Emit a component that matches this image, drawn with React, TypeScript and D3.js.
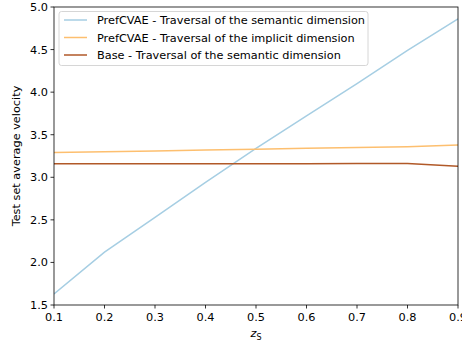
import React from 'react';
import * as d3 from 'd3';

const xs = [0.1, 0.2, 0.3, 0.4, 0.5, 0.6, 0.7, 0.8, 0.9];
const semantic = [1.63, 2.12, 2.53, 2.94, 3.34, 3.72, 4.1, 4.49, 4.86];
const implicit = [3.29, 3.3, 3.31, 3.32, 3.33, 3.34, 3.35, 3.36, 3.38];
const base = [3.16, 3.16, 3.16, 3.16, 3.16, 3.16, 3.163, 3.163, 3.13];
const seriesNames = [
  'PrefCVAE - Traversal of the semantic dimension',
  'PrefCVAE - Traversal of the implicit dimension',
  'Base - Traversal of the semantic dimension',
];
const colors = ['#a6cee3', '#fdbf6f', '#b15928'];
const xTicks = [0.1, 0.2, 0.3, 0.4, 0.5, 0.6, 0.7, 0.8, 0.9];
const yTicks = [1.5, 2.0, 2.5, 3.0, 3.5, 4.0, 4.5, 5.0];

const W = 462, H = 345;
const left = 54, right = 458, top = 7, bottom = 305;
const font = 'DejaVu Sans, sans-serif';
const fs = 11.3;

export default function App() {
  const x = d3.scaleLinear().domain([0.1, 0.9]).range([left, right]);
  const y = d3.scaleLinear().domain([1.5, 5.0]).range([bottom, top]);
  const line = d3.line<number>().x((_, i) => x(xs[i])).y(d => y(d));
  const all = [semantic, implicit, base];

  return (
    <svg width={W} height={H} style={{position: 'absolute', left: 0, top: 0}} fontFamily={font}>
      <rect width={W} height={H} fill="white" />
      <defs>
        <clipPath id="plot"><rect x={left} y={top} width={right - left} height={bottom - top} /></clipPath>
      </defs>
      <g clipPath="url(#plot)">
        {all.map((s, i) => (
          <path key={i} d={line(s) || ''} fill="none" stroke={colors[i]} strokeWidth={1.5} />
        ))}
      </g>
      <rect x={left} y={top} width={right - left} height={bottom - top} fill="none" stroke="#000" strokeWidth={0.8} />
      {xTicks.map(t => (
        <g key={t}>
          <line x1={x(t)} x2={x(t)} y1={bottom} y2={bottom + 3.5} stroke="#000" strokeWidth={0.8} />
          <text x={x(t)} y={bottom + 16} fontSize={fs} textAnchor="middle" fill="#000">{t.toFixed(1)}</text>
        </g>
      ))}
      {yTicks.map(t => (
        <g key={t}>
          <line x1={left - 3.5} x2={left} y1={y(t)} y2={y(t)} stroke="#000" strokeWidth={0.8} />
          <text x={left - 6} y={y(t) + 4} fontSize={fs} textAnchor="end" fill="#000">{t.toFixed(1)}</text>
        </g>
      ))}
      <text x={(left + right) / 2} y={337} fontSize={fs} textAnchor="middle" fill="#000">
        <tspan fontStyle="italic">z</tspan>
        <tspan fontSize={8} dy={3}>S</tspan>
      </text>
      <text transform={`translate(20,${(top + bottom) / 2}) rotate(-90)`} fontSize={fs} textAnchor="middle" fill="#000">
        Test set average velocity
      </text>
      <g>
        <rect x={59} y={11.5} width={309} height={54} rx={2.5} fill="white" fillOpacity={0.8} stroke="#ccc" strokeWidth={0.8} />
        {seriesNames.map((n, i) => (
          <g key={n}>
            <line x1={64} x2={87} y1={20 + i * 17.5} y2={20 + i * 17.5} stroke={colors[i]} strokeWidth={1.5} />
            <text x={97} y={24 + i * 17.5} fontSize={fs} fill="#000">{n}</text>
          </g>
        ))}
      </g>
    </svg>
  );
}
